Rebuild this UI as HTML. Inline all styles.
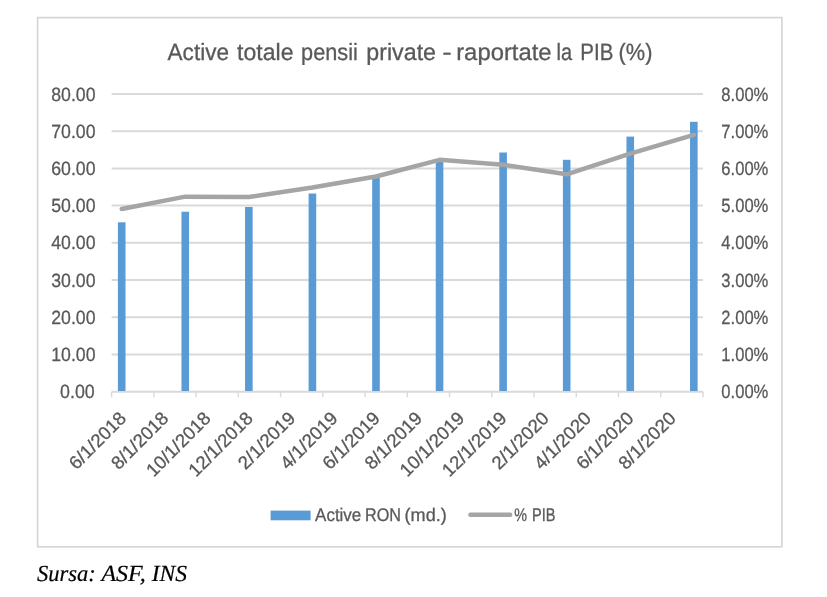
<!DOCTYPE html><html><head><meta charset="utf-8"><style>html,body{margin:0;padding:0;background:#fff;}svg{display:block;will-change:transform;}text{font-family:"Liberation Sans",sans-serif;text-rendering:geometricPrecision;}.g{stroke:#595959;stroke-width:0.3px;}.k{stroke:#000;stroke-width:0.2px;}</style></head><body>
<svg width="827" height="597" viewBox="0 0 827 597">
<rect x="0" y="0" width="827" height="597" fill="#fff"/>
<rect x="37.6" y="17.6" width="744.3" height="529.2" fill="#fff" stroke="#d4d4d4" stroke-width="1.6"/>
<text x="167.60" y="59.8" font-size="23.5" fill="#595959" class="g" textLength="61.36" lengthAdjust="spacingAndGlyphs">Active</text>
<text x="237.10" y="59.8" font-size="23.5" fill="#595959" class="g" textLength="56.39" lengthAdjust="spacingAndGlyphs">totale</text>
<text x="301.08" y="59.8" font-size="23.5" fill="#595959" class="g" textLength="56.72" lengthAdjust="spacingAndGlyphs">pensii</text>
<text x="366.31" y="59.8" font-size="23.5" fill="#595959" class="g" textLength="69.73" lengthAdjust="spacingAndGlyphs">private</text>
<text x="442.18" y="59.8" font-size="23.5" fill="#595959" class="g" textLength="9.52" lengthAdjust="spacingAndGlyphs">-</text>
<text x="456.19" y="59.8" font-size="23.5" fill="#595959" class="g" textLength="95.39" lengthAdjust="spacingAndGlyphs">raportate</text>
<text x="556.55" y="59.8" font-size="23.5" fill="#595959" class="g" textLength="15.55" lengthAdjust="spacingAndGlyphs">la</text>
<text x="580.36" y="59.8" font-size="23.5" fill="#595959" class="g" textLength="33.02" lengthAdjust="spacingAndGlyphs">PIB</text>
<text x="618.57" y="59.8" font-size="23.5" fill="#595959" class="g" textLength="33.86" lengthAdjust="spacingAndGlyphs">(%)</text>
<line x1="111.6" y1="93.90" x2="703.0" y2="93.90" stroke="#d9d9d9" stroke-width="2"/>
<line x1="111.6" y1="131.14" x2="703.0" y2="131.14" stroke="#d9d9d9" stroke-width="2"/>
<line x1="111.6" y1="168.38" x2="703.0" y2="168.38" stroke="#d9d9d9" stroke-width="2"/>
<line x1="111.6" y1="205.61" x2="703.0" y2="205.61" stroke="#d9d9d9" stroke-width="2"/>
<line x1="111.6" y1="242.85" x2="703.0" y2="242.85" stroke="#d9d9d9" stroke-width="2"/>
<line x1="111.6" y1="280.09" x2="703.0" y2="280.09" stroke="#d9d9d9" stroke-width="2"/>
<line x1="111.6" y1="317.32" x2="703.0" y2="317.32" stroke="#d9d9d9" stroke-width="2"/>
<line x1="111.6" y1="354.56" x2="703.0" y2="354.56" stroke="#d9d9d9" stroke-width="2"/>
<line x1="111.6" y1="391.8" x2="703.0" y2="391.8" stroke="#d9d9d9" stroke-width="2"/>
<line x1="111.60" y1="391.8" x2="111.60" y2="397.3" stroke="#d9d9d9" stroke-width="1.4"/>
<line x1="153.84" y1="391.8" x2="153.84" y2="397.3" stroke="#d9d9d9" stroke-width="1.4"/>
<line x1="196.09" y1="391.8" x2="196.09" y2="397.3" stroke="#d9d9d9" stroke-width="1.4"/>
<line x1="238.33" y1="391.8" x2="238.33" y2="397.3" stroke="#d9d9d9" stroke-width="1.4"/>
<line x1="280.57" y1="391.8" x2="280.57" y2="397.3" stroke="#d9d9d9" stroke-width="1.4"/>
<line x1="322.81" y1="391.8" x2="322.81" y2="397.3" stroke="#d9d9d9" stroke-width="1.4"/>
<line x1="365.06" y1="391.8" x2="365.06" y2="397.3" stroke="#d9d9d9" stroke-width="1.4"/>
<line x1="407.30" y1="391.8" x2="407.30" y2="397.3" stroke="#d9d9d9" stroke-width="1.4"/>
<line x1="449.54" y1="391.8" x2="449.54" y2="397.3" stroke="#d9d9d9" stroke-width="1.4"/>
<line x1="491.79" y1="391.8" x2="491.79" y2="397.3" stroke="#d9d9d9" stroke-width="1.4"/>
<line x1="534.03" y1="391.8" x2="534.03" y2="397.3" stroke="#d9d9d9" stroke-width="1.4"/>
<line x1="576.27" y1="391.8" x2="576.27" y2="397.3" stroke="#d9d9d9" stroke-width="1.4"/>
<line x1="618.51" y1="391.8" x2="618.51" y2="397.3" stroke="#d9d9d9" stroke-width="1.4"/>
<line x1="660.76" y1="391.8" x2="660.76" y2="397.3" stroke="#d9d9d9" stroke-width="1.4"/>
<line x1="703.00" y1="391.8" x2="703.00" y2="397.3" stroke="#d9d9d9" stroke-width="1.4"/>
<text x="51.28" y="100.50" font-size="19.2" fill="#595959" class="g" textLength="44.26" lengthAdjust="spacingAndGlyphs">80.00</text>
<text x="51.28" y="137.74" font-size="19.2" fill="#595959" class="g" textLength="44.26" lengthAdjust="spacingAndGlyphs">70.00</text>
<text x="51.28" y="174.97" font-size="19.2" fill="#595959" class="g" textLength="44.26" lengthAdjust="spacingAndGlyphs">60.00</text>
<text x="51.28" y="212.21" font-size="19.2" fill="#595959" class="g" textLength="44.26" lengthAdjust="spacingAndGlyphs">50.00</text>
<text x="51.28" y="249.45" font-size="19.2" fill="#595959" class="g" textLength="44.26" lengthAdjust="spacingAndGlyphs">40.00</text>
<text x="51.28" y="286.69" font-size="19.2" fill="#595959" class="g" textLength="44.26" lengthAdjust="spacingAndGlyphs">30.00</text>
<text x="51.28" y="323.93" font-size="19.2" fill="#595959" class="g" textLength="44.26" lengthAdjust="spacingAndGlyphs">20.00</text>
<text x="51.28" y="361.16" font-size="19.2" fill="#595959" class="g" textLength="44.26" lengthAdjust="spacingAndGlyphs">10.00</text>
<text x="60.07" y="398.40" font-size="19.2" fill="#595959" class="g" textLength="34.66" lengthAdjust="spacingAndGlyphs">0.00</text>
<text x="721.34" y="100.50" font-size="19.2" fill="#595959" class="g" textLength="47.02" lengthAdjust="spacingAndGlyphs">8.00%</text>
<text x="721.34" y="137.74" font-size="19.2" fill="#595959" class="g" textLength="47.02" lengthAdjust="spacingAndGlyphs">7.00%</text>
<text x="721.34" y="174.97" font-size="19.2" fill="#595959" class="g" textLength="47.02" lengthAdjust="spacingAndGlyphs">6.00%</text>
<text x="721.34" y="212.21" font-size="19.2" fill="#595959" class="g" textLength="47.02" lengthAdjust="spacingAndGlyphs">5.00%</text>
<text x="721.34" y="249.45" font-size="19.2" fill="#595959" class="g" textLength="47.02" lengthAdjust="spacingAndGlyphs">4.00%</text>
<text x="721.34" y="286.69" font-size="19.2" fill="#595959" class="g" textLength="47.02" lengthAdjust="spacingAndGlyphs">3.00%</text>
<text x="721.34" y="323.93" font-size="19.2" fill="#595959" class="g" textLength="47.02" lengthAdjust="spacingAndGlyphs">2.00%</text>
<text x="721.34" y="361.16" font-size="19.2" fill="#595959" class="g" textLength="47.02" lengthAdjust="spacingAndGlyphs">1.00%</text>
<text x="721.34" y="398.40" font-size="19.2" fill="#595959" class="g" textLength="47.02" lengthAdjust="spacingAndGlyphs">0.00%</text>
<rect x="117.90" y="222.3" width="7.6" height="168.70" fill="#5b9bd5"/>
<rect x="181.47" y="211.7" width="7.6" height="179.30" fill="#5b9bd5"/>
<rect x="245.04" y="207.0" width="7.6" height="184.00" fill="#5b9bd5"/>
<rect x="308.61" y="193.5" width="7.6" height="197.50" fill="#5b9bd5"/>
<rect x="372.18" y="177.8" width="7.6" height="213.20" fill="#5b9bd5"/>
<rect x="435.75" y="160.0" width="7.6" height="231.00" fill="#5b9bd5"/>
<rect x="499.32" y="152.5" width="7.6" height="238.50" fill="#5b9bd5"/>
<rect x="562.89" y="159.8" width="7.6" height="231.20" fill="#5b9bd5"/>
<rect x="626.46" y="136.6" width="7.6" height="254.40" fill="#5b9bd5"/>
<rect x="690.03" y="121.8" width="7.6" height="269.20" fill="#5b9bd5"/>
<polyline points="121.70,209.0 185.27,196.7 248.84,197.0 312.41,187.5 375.98,176.5 439.55,159.8 503.12,164.8 566.69,174.3 630.26,153.7 693.83,134.8" fill="none" stroke="#a5a5a5" stroke-width="4.4" stroke-linejoin="round" stroke-linecap="round"/>
<text transform="translate(127.30,419.5) rotate(-45)" font-size="18.5" fill="#595959" class="g" text-anchor="end">6/1/2018</text>
<text transform="translate(169.58,419.5) rotate(-45)" font-size="18.5" fill="#595959" class="g" text-anchor="end">8/1/2018</text>
<text transform="translate(211.86,419.5) rotate(-45)" font-size="18.5" fill="#595959" class="g" text-anchor="end">10/1/2018</text>
<text transform="translate(254.14,419.5) rotate(-45)" font-size="18.5" fill="#595959" class="g" text-anchor="end">12/1/2018</text>
<text transform="translate(296.42,419.5) rotate(-45)" font-size="18.5" fill="#595959" class="g" text-anchor="end">2/1/2019</text>
<text transform="translate(338.70,419.5) rotate(-45)" font-size="18.5" fill="#595959" class="g" text-anchor="end">4/1/2019</text>
<text transform="translate(380.98,419.5) rotate(-45)" font-size="18.5" fill="#595959" class="g" text-anchor="end">6/1/2019</text>
<text transform="translate(423.26,419.5) rotate(-45)" font-size="18.5" fill="#595959" class="g" text-anchor="end">8/1/2019</text>
<text transform="translate(465.54,419.5) rotate(-45)" font-size="18.5" fill="#595959" class="g" text-anchor="end">10/1/2019</text>
<text transform="translate(507.82,419.5) rotate(-45)" font-size="18.5" fill="#595959" class="g" text-anchor="end">12/1/2019</text>
<text transform="translate(550.10,419.5) rotate(-45)" font-size="18.5" fill="#595959" class="g" text-anchor="end">2/1/2020</text>
<text transform="translate(592.38,419.5) rotate(-45)" font-size="18.5" fill="#595959" class="g" text-anchor="end">4/1/2020</text>
<text transform="translate(634.66,419.5) rotate(-45)" font-size="18.5" fill="#595959" class="g" text-anchor="end">6/1/2020</text>
<text transform="translate(676.94,419.5) rotate(-45)" font-size="18.5" fill="#595959" class="g" text-anchor="end">8/1/2020</text>
<rect x="270.6" y="510.6" width="40" height="9.7" fill="#5b9bd5"/>
<text x="315.10" y="520.9" font-size="18.2" fill="#595959" class="g" textLength="46.20" lengthAdjust="spacingAndGlyphs">Active</text>
<text x="365.01" y="520.9" font-size="18.2" fill="#595959" class="g" textLength="35.95" lengthAdjust="spacingAndGlyphs">RON</text>
<text x="404.61" y="520.9" font-size="18.2" fill="#595959" class="g" textLength="42.13" lengthAdjust="spacingAndGlyphs">(md.)</text>
<line x1="470.4" y1="514.8" x2="510.2" y2="514.8" stroke="#a5a5a5" stroke-width="4.4" stroke-linecap="round"/>
<text x="514.30" y="520.7" font-size="18.2" fill="#595959" class="g" textLength="12.74" lengthAdjust="spacingAndGlyphs">%</text>
<text x="532.00" y="520.7" font-size="18.2" fill="#595959" class="g" textLength="23.46" lengthAdjust="spacingAndGlyphs">PIB</text>
<text x="36.90" y="580.6" font-size="23.0" fill="#000" class="k" textLength="58.84" lengthAdjust="spacingAndGlyphs" font-style="italic" style="font-family:'Liberation Serif',serif">Sursa:</text>
<text x="101.44" y="580.6" font-size="23.0" fill="#000" class="k" textLength="44.21" lengthAdjust="spacingAndGlyphs" font-style="italic" style="font-family:'Liberation Serif',serif">ASF,</text>
<text x="151.70" y="580.6" font-size="23.0" fill="#000" class="k" textLength="35.31" lengthAdjust="spacingAndGlyphs" font-style="italic" style="font-family:'Liberation Serif',serif">INS</text>
</svg></body></html>
